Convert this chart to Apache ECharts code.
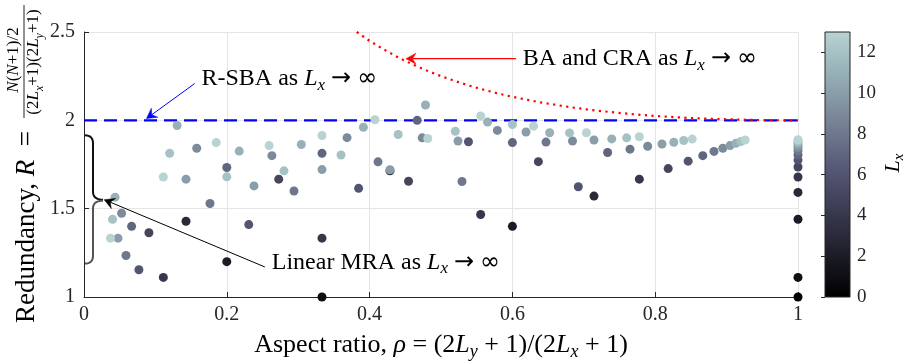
<!DOCTYPE html>
<html>
<head>
<meta charset="utf-8">
<script src="https://cdn.jsdelivr.net/npm/echarts@6/dist/echarts.min.js"></script>
<style>
  html, body { margin: 0; padding: 0; background: #ffffff; }
  #chart { width: 913px; height: 362px; }
</style>
</head>
<body>
<div id="chart"></div>
<script>
// Redundancy of each (Lx, Ly) array: row index = Lx, position in row = Ly (Ly <= Lx).
const LX_VALUES = [0, 1, 2, 3, 4, 5, 6, 7, 8, 9, 10, 11, 12, 13];
const REDUNDANCY_BY_LX = [
  [1.000],
  [1.000, 1.111],
  [1.200, 1.400, 1.440],
  [1.429, 1.714, 1.571, 1.592],
  [1.111, 1.333, 1.467, 1.667, 1.679],
  [1.364, 1.667, 1.655, 1.766, 1.727, 1.736],
  [1.154, 1.410, 1.615, 1.879, 1.624, 1.769, 1.775],
  [1.400, 1.733, 1.813, 2.000, 1.874, 1.818, 1.800, 1.804],
  [1.235, 1.529, 1.600, 1.765, 1.654, 1.877, 1.837, 1.824, 1.827],
  [1.474, 1.842, 1.800, 1.902, 1.901, 1.943, 1.883, 1.853, 1.842, 1.845],
  [1.333, 1.667, 1.629, 1.721, 1.720, 1.883, 1.934, 1.889, 1.866, 1.857, 1.859],
  [1.565, 1.971, 1.826, 1.863, 1.961, 2.087, 1.990, 1.930, 1.895, 1.876, 1.870, 1.871],
  [1.440, 1.813, 1.680, 1.714, 1.804, 1.920, 1.938, 1.976, 1.929, 1.901, 1.886, 1.880, 1.882],
  [1.333, 1.679, 1.874, 1.857, 1.914, 2.003, 1.897, 2.025, 1.967, 1.930, 1.907, 1.894, 1.889, 1.890]
];

// Asymptotic limit curves
const RSBA_RHO = [0, 1];
const RSBA_R = [2, 2];
const BACRA_RHO = [0.382, 0.40, 0.42, 0.44, 0.46, 0.48, 0.50, 0.52, 0.54, 0.56, 0.58, 0.60, 0.62, 0.64,
  0.66, 0.68, 0.70, 0.72, 0.74, 0.76, 0.78, 0.80, 0.82, 0.84, 0.86, 0.88, 0.90, 0.92, 0.94, 0.96, 0.98, 1.00];
const BACRA_R = [2.500, 2.450, 2.401, 2.356, 2.317, 2.282, 2.250, 2.222, 2.196, 2.173, 2.152, 2.133, 2.117, 2.101,
  2.088, 2.075, 2.064, 2.054, 2.046, 2.038, 2.031, 2.025, 2.020, 2.015, 2.011, 2.008, 2.006, 2.004, 2.002, 2.001, 2.000, 2.000];

// Axis ticks
const X_TICK_STEP = 0.2;
const Y_TICK_STEP = 0.5;
const CBAR_TICK_STEP = 2;
const CBAR_MAX = 13;

// bone colour ramp (dark to light)
const BONE = ['#000000', '#16161f', '#2d2d3e', '#43435c', '#595b79', '#707a8f', '#8699a6', '#9cb8bc', '#b9d2d2'];

const SERIF = '"Liberation Serif", "DejaVu Serif", serif';
const INK = '#262626';

const points = [];
REDUNDANCY_BY_LX.forEach((row, lx) => {
  row.forEach((r, ly) => {
    points.push([(2 * ly + 1) / (2 * lx + 1), r, LX_VALUES[lx]]);
  });
});

function richStyles(size, color) {
  const sub = Math.round(size * 0.7);
  return {
    t: { fontFamily: SERIF, fontSize: size, color: color, lineHeight: size + 6, verticalAlign: 'middle' },
    i: { fontFamily: SERIF, fontSize: size, color: color, fontStyle: 'italic', lineHeight: size + 6, verticalAlign: 'middle' },
    s: { fontFamily: SERIF, fontSize: sub, color: color, fontStyle: 'italic', lineHeight: sub, verticalAlign: 'bottom' },
    a: { fontFamily: '"DejaVu Sans", sans-serif', fontSize: size, color: color, lineHeight: size + 6, verticalAlign: 'middle' }
  };
}

const chart = echarts.init(document.getElementById('chart'), null, { renderer: 'canvas' });

chart.setOption({
  animation: false,
  backgroundColor: '#ffffff',
  grid: [
    { left: 84, top: 32, width: 714, height: 265, containLabel: false },
    {
      left: 825, top: 32, width: 25, height: 265, show: true,
      borderColor: INK, borderWidth: 1,
      backgroundColor: {
        type: 'linear', x: 0, y: 1, x2: 0, y2: 0,
        colorStops: BONE.map((c, i) => ({ offset: i / (BONE.length - 1), color: c }))
      }
    }
  ],
  xAxis: [
    {
      type: 'value', gridIndex: 0, min: 0, max: 1, interval: X_TICK_STEP,
      axisLine: { show: true, onZero: false, lineStyle: { color: INK, width: 1 } },
      axisTick: { show: true, inside: true, length: 5, lineStyle: { color: INK } },
      axisLabel: { color: INK, fontFamily: SERIF, fontSize: 20, margin: 8 },
      splitLine: { show: true, lineStyle: { color: '#e5e5e5', width: 1 } }
    },
    { type: 'value', gridIndex: 1, min: 0, max: 1, show: false }
  ],
  yAxis: [
    {
      type: 'value', gridIndex: 0, min: 1, max: 2.5, interval: Y_TICK_STEP,
      axisLine: { show: true, onZero: false, lineStyle: { color: INK, width: 1 } },
      axisTick: { show: true, inside: true, length: 5, lineStyle: { color: INK } },
      axisLabel: { color: INK, fontFamily: SERIF, fontSize: 20, margin: 9 },
      splitLine: { show: true, lineStyle: { color: '#e5e5e5', width: 1 } }
    },
    {
      type: 'value', gridIndex: 1, min: 0, max: CBAR_MAX, interval: CBAR_TICK_STEP, position: 'right',
      axisLine: { show: false },
      axisTick: { show: true, inside: true, length: 4, lineStyle: { color: INK } },
      axisLabel: { color: INK, fontFamily: SERIF, fontSize: 19, margin: 7, showMaxLabel: false },
      splitLine: { show: false }
    }
  ],
  visualMap: {
    show: false, type: 'continuous', min: 0, max: CBAR_MAX, dimension: 2, seriesIndex: 2,
    inRange: { color: BONE }
  },
  series: [
    {
      name: 'R-SBA', type: 'line', xAxisIndex: 0, yAxisIndex: 0, z: 2,
      data: RSBA_RHO.map((x, i) => [x, RSBA_R[i]]),
      symbol: 'none', silent: true,
      lineStyle: { color: '#0000ff', width: 2.2, type: [13, 7] }
    },
    {
      name: 'BA and CRA', type: 'line', xAxisIndex: 0, yAxisIndex: 0, z: 3,
      data: BACRA_RHO.map((x, i) => [x, BACRA_R[i]]),
      symbol: 'none', silent: true,
      lineStyle: { color: '#ff0000', width: 2.2, type: [2.2, 4.4] }
    },
    {
      name: 'arrays', type: 'scatter', xAxisIndex: 0, yAxisIndex: 0, z: 4,
      data: points, symbol: 'circle', symbolSize: 9,
      itemStyle: { opacity: 1 }
    }
  ]
});

// ---- annotations (anchored in data coordinates) ----
const px = (p) => chart.convertToPixel({ gridIndex: 0 }, p);

function arrow(tail, tip, color, width) {
  const a = px(tail), b = px(tip);
  const dx = b[0] - a[0], dy = b[1] - a[1];
  const len = Math.hypot(dx, dy), ux = dx / len, uy = dy / len;
  const nx = -uy, ny = ux;
  const hl = 10, hw = 5.5, notch = 3.5;
  const back = [b[0] - ux * hl, b[1] - uy * hl];
  const mid = [b[0] - ux * (hl - notch), b[1] - uy * (hl - notch)];
  return [
    { type: 'line', z: 20, shape: { x1: a[0], y1: a[1], x2: mid[0], y2: mid[1] }, style: { stroke: color, lineWidth: width } },
    {
      type: 'polygon', z: 21,
      shape: { points: [b, [back[0] + nx * hw, back[1] + ny * hw], mid, [back[0] - nx * hw, back[1] - ny * hw]] },
      style: { fill: color, stroke: color, lineWidth: 0.5 }
    }
  ];
}

function label(at, text, color, size) {
  const p = px(at);
  return {
    type: 'text', z: 22, x: p[0], y: p[1],
    style: { text: text, rich: richStyles(size, color), align: 'left', verticalAlign: 'middle' }
  };
}

// quadratic curve sampled into points
function quad(p0, c, p1) {
  const out = [];
  for (let k = 0; k <= 8; k++) {
    const t = k / 8, m = 1 - t;
    out.push([m * m * p0[0] + 2 * m * t * c[0] + t * t * p1[0], m * m * p0[1] + 2 * m * t * c[1] + t * t * p1[1]]);
  }
  return out;
}

// Brace marking the linear MRA range on the left edge
const braceTop = px([0, 1.915]);
const braceTip = px([0.0266, 1.551]);
const braceBot = px([0, 1.189]);
const bm = px([0.0126, 1.551])[0];
const bx0 = braceTop[0] + 1, rr = 8;
const upperPts = [
  ...quad([bx0, braceTop[1]], [bm, braceTop[1]], [bm, braceTop[1] + rr]),
  ...quad([bm, braceTip[1] - rr], [bm, braceTip[1]], [braceTip[0], braceTip[1]])
];
const lowerPts = [
  ...quad([braceTip[0], braceTip[1] + 1], [bm, braceTip[1] + 1], [bm, braceTip[1] + 1 + rr]),
  ...quad([bm, braceBot[1] - rr], [bm, braceBot[1]], [bx0, braceBot[1]])
];

const LX_SUB = '{i|L}{s|x}';
const TO_INF = '{t| }{a|→}{t| }{a|∞}';

const graphics = [
  ...arrow([0.155, 2.208], [0.0875, 2.010], '#0000ff', 1),
  label([0.1645, 2.236], '{t|R-SBA as }' + LX_SUB + TO_INF, '#0000ff', 24),
  ...arrow([0.605, 2.349], [0.4509, 2.349], '#ff0000', 1.3),
  label([0.6144, 2.349], '{t|BA and CRA as }' + LX_SUB + TO_INF, '#ff0000', 24),
  ...arrow([0.2533, 1.170], [0.0283, 1.551], '#000000', 1),
  label([0.263, 1.196], '{t|Linear MRA as }' + LX_SUB + TO_INF, '#000000', 24),
  { type: 'polyline', z: 19, shape: { points: upperPts }, style: { fill: null, stroke: '#111111', lineWidth: 2 } },
  { type: 'polyline', z: 19, shape: { points: lowerPts }, style: { fill: null, stroke: '#555555', lineWidth: 2 } }
];

// x-axis title
const xc = px([0.5, 1])[0];
graphics.push({
  type: 'text', z: 22, x: xc, y: 345,
  style: {
    text: '{t|Aspect ratio, }{i|ρ}{t| = (2}{i|L}{s|y}{t| + 1)/(2}{i|L}{s|x}{t| + 1)}',
    rich: richStyles(26, INK), align: 'center', verticalAlign: 'middle'
  }
});

// y-axis title with fraction, written bottom-to-top
graphics.push({
  type: 'group', x: 0, y: 330, rotation: Math.PI / 2,
  children: [
    {
      type: 'text', x: 7, y: 27,
      style: { text: '{t|Redundancy, }{i|R}{t|  =}', rich: richStyles(27, INK), align: 'left', verticalAlign: 'middle' }
    },
    {
      type: 'text', x: 270, y: 14,
      style: { text: '{i|N}{t|(}{i|N}{t|+1)/2}', rich: richStyles(17, INK), align: 'center', verticalAlign: 'middle' }
    },
    { type: 'line', shape: { x1: 212, y1: 24, x2: 325, y2: 24 }, style: { stroke: INK, lineWidth: 1 } },
    {
      type: 'text', x: 268, y: 34,
      style: { text: '{t|(2}{i|L}{s|x}{t|+1)(2}{i|L}{s|y}{t|+1)}', rich: richStyles(17, INK), align: 'center', verticalAlign: 'middle' }
    }
  ]
});

// colour bar title
graphics.push({
  type: 'text', x: 893, y: 163, rotation: Math.PI / 2,
  style: { text: '{i|L}{s|x}', rich: richStyles(22, INK), align: 'center', verticalAlign: 'middle' }
});

chart.setOption({ graphic: graphics });
</script>
</body>
</html>
